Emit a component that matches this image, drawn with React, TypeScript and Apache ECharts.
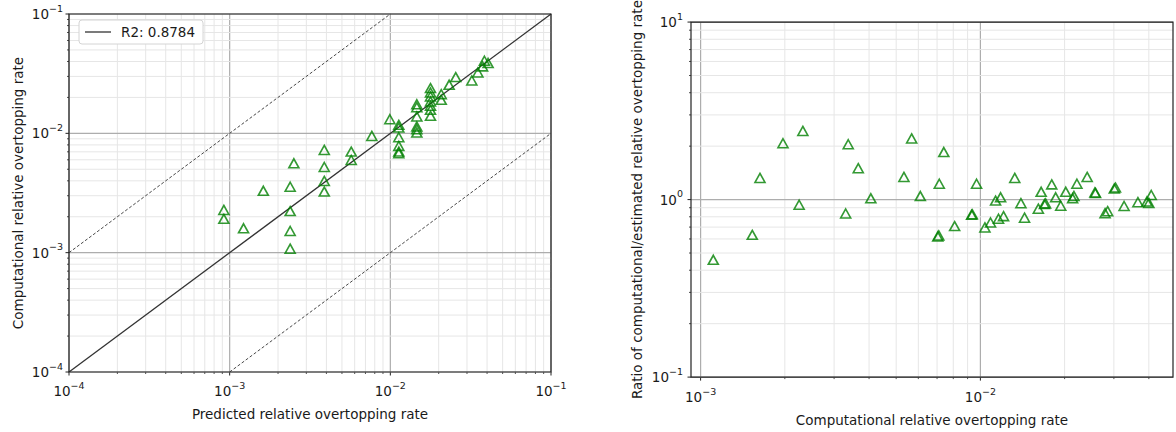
import React, { useEffect, useRef } from 'react';
import * as echarts from 'echarts';

// Left panel: predicted vs computational relative overtopping rate
const leftPredicted = [
  0.00092, 0.00092, 0.00122, 0.00162, 0.00238, 0.00251, 0.00238, 0.00238, 0.00238,
  0.00388, 0.00388, 0.00388, 0.00388, 0.00571, 0.00571, 0.00767, 0.00993,
  0.01129, 0.01129, 0.01129, 0.01129, 0.01129, 0.01129,
  0.01462, 0.01462, 0.01462, 0.01462, 0.01462, 0.01462,
  0.01778, 0.01778, 0.01778, 0.01778, 0.01778, 0.01778, 0.01778,
  0.02074, 0.02074, 0.02323, 0.02553, 0.03215, 0.03508, 0.0375, 0.0385, 0.0406,
];
const leftComputed = [
  0.00228, 0.00192, 0.0016, 0.0033, 0.00357, 0.00561, 0.00223, 0.00152, 0.00108,
  0.00726, 0.00522, 0.00399, 0.00325, 0.00703, 0.00598, 0.00951, 0.01312,
  0.01178, 0.01118, 0.00927, 0.00785, 0.00703, 0.00681,
  0.01753, 0.01656, 0.01383, 0.0114, 0.01082, 0.01015,
  0.02393, 0.022, 0.0204, 0.0185, 0.017, 0.01573, 0.01401,
  0.02128, 0.0191, 0.02551, 0.02959, 0.02773, 0.03236, 0.0364, 0.04057, 0.0388,
];

// Right panel: computational rate vs ratio computational/estimated
const rightComputed = [
  0.00111, 0.00153, 0.00163, 0.00197, 0.00225, 0.00232, 0.0033, 0.00337, 0.00366, 0.00406,
  0.00533, 0.00568, 0.0061, 0.00704, 0.0071, 0.00713, 0.0074, 0.00809, 0.0093, 0.00936,
  0.00969, 0.01038, 0.01087, 0.01133, 0.01161, 0.01181, 0.0121, 0.01327, 0.01396, 0.01438,
  0.01611, 0.01649, 0.01694, 0.0171, 0.01799, 0.01858, 0.01937, 0.02019, 0.02136, 0.0216,
  0.02213, 0.02408, 0.02566, 0.0258, 0.0279, 0.0285, 0.0301, 0.0304, 0.03263, 0.03656,
  0.03938, 0.04, 0.0408,
];
const rightRatio = [
  0.458, 0.633, 1.325, 2.076, 0.935, 2.436, 0.835, 2.05, 1.503, 1.017,
  1.342, 2.211, 1.047, 0.62, 0.628, 1.228, 1.853, 0.709, 0.822, 0.826,
  1.228, 0.697, 0.743, 0.987, 0.78, 1.03, 0.807, 1.325, 0.955, 0.791,
  0.889, 1.106, 0.943, 0.952, 1.218, 1.03, 0.923, 1.106, 1.017, 1.047,
  1.228, 1.342, 1.096, 1.09, 0.838, 0.86, 1.153, 1.168, 0.92, 0.967,
  0.975, 0.958, 1.061,
];

const r2Label = 'R2: 0.8784';
const leftXRange = [1e-4, 1e-1];
const leftYRange = [1e-4, 1e-1];
const rightXRange = [0.000924, 0.0488];
const rightYRange = [0.1, 10];
const diagonalX = [1e-4, 1e-1];
const diagonalY = [1e-4, 1e-1];
const upperBandX = [1e-4, 1e-2];
const upperBandY = [1e-3, 1e-1];
const lowerBandX = [1e-3, 1e-1];
const lowerBandY = [1e-4, 1e-2];
const decadeMultipliers = [1, 2, 3, 4, 5, 6, 7, 8, 9];

const FONT = "'DejaVu Sans', 'Liberation Sans', sans-serif";
const TEXT = '#1a1a1a';
const GREEN = '#008000';

function gridValues(lo: number, hi: number) {
  const out: { v: number; major: boolean }[] = [];
  const k0 = Math.floor(Math.log10(lo)) - 1;
  const k1 = Math.ceil(Math.log10(hi)) + 1;
  for (let k = k0; k <= k1; k++) {
    for (const m of decadeMultipliers) {
      const v = m * Math.pow(10, k);
      if (v >= lo * (1 - 1e-9) && v <= hi * (1 + 1e-9)) out.push({ v, major: m === 1 });
    }
  }
  return out;
}

function gridSeries(xIdx: number, xr: number[], yr: number[]) {
  const data: number[][] = [];
  gridValues(xr[0], xr[1]).forEach((g) => data.push([g.v, yr[0], g.major ? 1 : 0]));
  gridValues(yr[0], yr[1]).forEach((g) => data.push([xr[0], g.v, g.major ? 3 : 2]));
  return {
    type: 'custom',
    xAxisIndex: xIdx,
    yAxisIndex: xIdx,
    silent: true,
    z: 1,
    clip: false,
    data,
    encode: { x: 0, y: 1 },
    renderItem: (params: any, api: any) => {
      const kind = api.value(2);
      const major = kind === 1 || kind === 3;
      const gridStyle = { stroke: major ? '#adadad' : '#e6e6e6', lineWidth: major ? 1.2 : 1 };
      const tickStyle = { stroke: '#222', lineWidth: major ? 1 : 0.8 };
      const tl = major ? 3.5 : 2;
      if (kind < 2) {
        const v = api.value(0);
        const p0 = api.coord([v, yr[0]]);
        const p1 = api.coord([v, yr[1]]);
        return {
          type: 'group',
          children: [
            { type: 'line', shape: { x1: p0[0], y1: p0[1], x2: p1[0], y2: p1[1] }, style: gridStyle },
            { type: 'line', shape: { x1: p0[0], y1: p0[1], x2: p0[0], y2: p0[1] + tl }, style: tickStyle },
          ],
        };
      }
      const v = api.value(1);
      const p0 = api.coord([xr[0], v]);
      const p1 = api.coord([xr[1], v]);
      return {
        type: 'group',
        children: [
          { type: 'line', shape: { x1: p0[0], y1: p0[1], x2: p1[0], y2: p1[1] }, style: gridStyle },
          { type: 'line', shape: { x1: p0[0], y1: p0[1], x2: p0[0] - tl, y2: p0[1] }, style: tickStyle },
        ],
      };
    },
  };
}

function powLabel(v: number) {
  const e = Math.log10(v);
  const r = Math.round(e);
  if (Math.abs(e - r) > 1e-6) return '';
  return '10{sup|' + (r < 0 ? '\u2212' + -r : String(r)) + '}';
}

const labelStyle = (margin: number) => ({
  formatter: powLabel,
  margin,
  color: TEXT,
  fontSize: 13.5,
  fontFamily: FONT,
  lineHeight: 22,
  showMinLabel: true,
  showMaxLabel: true,
  rich: {
    sup: { fontSize: 9.5, fontFamily: FONT, color: TEXT, lineHeight: 10, verticalAlign: 'top' },
  },
});

const nameStyle = { color: TEXT, fontSize: 13.5, fontFamily: FONT };

function logAxis(gridIndex: number, range: number[], name: string, gap: number, margin: number) {
  return {
    type: 'log',
    logBase: 10,
    gridIndex,
    min: range[0],
    max: range[1],
    name,
    nameLocation: 'middle',
    nameGap: gap,
    nameTextStyle: nameStyle,
    axisLine: { show: false },
    axisTick: { show: false },
    splitLine: { show: false },
    axisLabel: labelStyle(margin),
  };
}

const triangleStyle = {
  symbol: 'triangle',
  symbolSize: [10, 9],
  itemStyle: { color: 'rgba(0,0,0,0)', borderColor: GREEN, borderWidth: 1.6 },
};

export default function App() {
  const ref = useRef<HTMLDivElement>(null);
  useEffect(() => {
    if (!ref.current) return;
    const chart = echarts.init(ref.current, undefined, { renderer: 'svg' });
    const leftPoints = leftPredicted.map((x, i) => [x, leftComputed[i]]);
    const rightPoints = rightComputed.map((x, i) => [x, rightRatio[i]]);
    chart.setOption({
      animation: false,
      backgroundColor: '#fff',
      textStyle: { fontFamily: FONT },
      grid: [
        { left: 69, top: 14, width: 482, height: 358, show: true, borderColor: '#222', borderWidth: 1.2, backgroundColor: 'transparent', z: 5 },
        { left: 691, top: 15, width: 491, height: 366, show: true, borderColor: '#222', borderWidth: 1.2, backgroundColor: 'transparent', z: 5 },
      ],
      legend: {
        left: 79,
        top: 20,
        data: [{ name: r2Label, icon: 'rect' }],
        backgroundColor: '#fff',
        borderColor: '#d4d4d4',
        borderWidth: 1,
        borderRadius: 3,
        padding: [5, 8, 5, 6],
        itemWidth: 26,
        itemHeight: 1.3,
        itemStyle: { color: '#333' },
        textStyle: { color: TEXT, fontSize: 13.5, fontFamily: FONT, padding: [0, 0, 0, 5] },
      },
      xAxis: [
        logAxis(0, leftXRange, 'Predicted relative overtopping rate', 30, 8),
        logAxis(1, rightXRange, 'Computational relative overtopping rate', 31, 9),
      ],
      yAxis: [
        logAxis(0, leftYRange, 'Computational relative overtopping rate', 44, 6),
        logAxis(1, rightYRange, 'Ratio of computational/estimated relative overtopping rate', 47, 8),
      ],
      series: [
        gridSeries(0, leftXRange, leftYRange),
        gridSeries(1, rightXRange, rightYRange),
        {
          type: 'line',
          name: r2Label,
          xAxisIndex: 0,
          yAxisIndex: 0,
          symbol: 'none',
          silent: true,
          z: 3,
          lineStyle: { color: '#333', width: 1.3 },
          data: diagonalX.map((x, i) => [x, diagonalY[i]]),
        },
        {
          type: 'line',
          name: 'upper',
          xAxisIndex: 0,
          yAxisIndex: 0,
          symbol: 'none',
          silent: true,
          z: 3,
          lineStyle: { color: '#333', width: 0.9, type: [3, 2] },
          data: upperBandX.map((x, i) => [x, upperBandY[i]]),
        },
        {
          type: 'line',
          name: 'lower',
          xAxisIndex: 0,
          yAxisIndex: 0,
          symbol: 'none',
          silent: true,
          z: 3,
          lineStyle: { color: '#333', width: 0.9, type: [3, 2] },
          data: lowerBandX.map((x, i) => [x, lowerBandY[i]]),
        },
        { type: 'scatter', name: 'points-left', xAxisIndex: 0, yAxisIndex: 0, z: 4, data: leftPoints, ...triangleStyle },
        { type: 'scatter', name: 'points-right', xAxisIndex: 1, yAxisIndex: 1, z: 4, data: rightPoints, ...triangleStyle },
      ],
    });
    return () => chart.dispose();
  }, []);
  return <div ref={ref} style={{ position: 'fixed', left: 0, top: 0, width: 1176, height: 432 }} />;
}
